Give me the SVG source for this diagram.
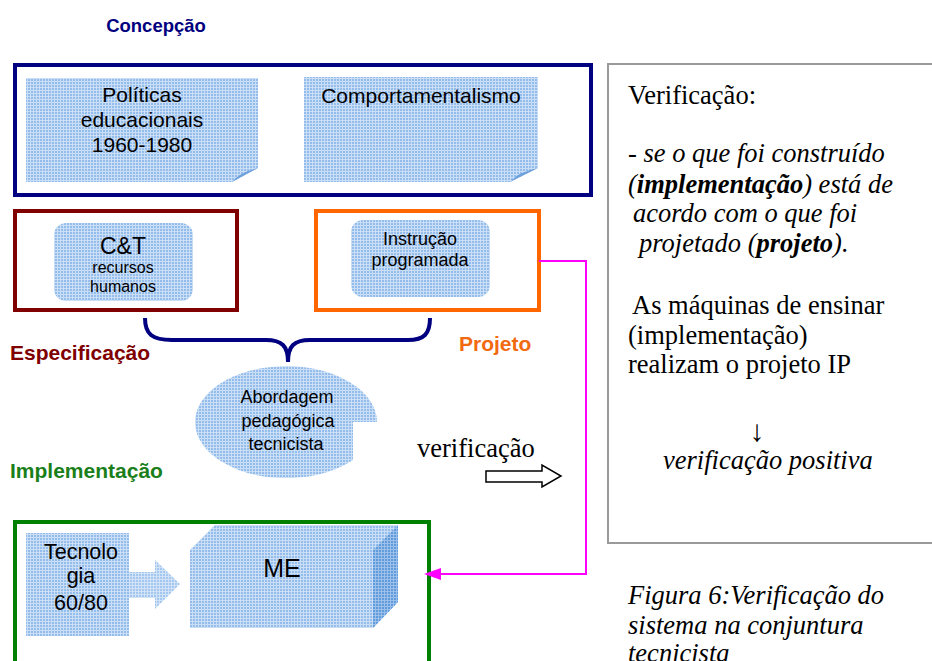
<svg xmlns="http://www.w3.org/2000/svg" width="932" height="661" viewBox="0 0 932 661">
<defs>
<pattern id="grid" width="3" height="3" patternUnits="userSpaceOnUse"><rect width="3" height="3" fill="#94bdec"/><path d="M0 0.5H3M0.5 0V3" stroke="#ffffff" stroke-width="1" opacity="0.5"/></pattern>
<pattern id="gridDark" width="3" height="3" patternUnits="userSpaceOnUse"><rect width="3" height="3" fill="#4f8fd6"/><path d="M0 0.5H3M0.5 0V3" stroke="#ffffff" stroke-width="1" opacity="0.35"/></pattern>
</defs>
<style>
.sans{font-family:"Liberation Sans",Arial,sans-serif;fill:#000}
.serif{font-family:"Liberation Serif","Times New Roman",serif;fill:#000;font-size:26.5px}
.lbl{font-family:"Liberation Sans",Arial,sans-serif;font-weight:bold;font-size:21px}
.frame{fill:#fff;stroke-width:4}
.fill{fill:url(#grid)}
</style>
<rect width="932" height="661" fill="#fff"/>

<g id="concepcao-label"><text class="lbl" x="156" y="32" text-anchor="middle" fill="#000080" style="font-size:18.5px">Concepção</text></g>

<g id="concepcao">
<rect class="frame" x="15" y="65" width="576" height="130" stroke="#000080"/>
</g>
<g id="politicas">
<path class="fill" d="M26 78H258V168L232 182H26Z"/>
<path d="M232 182Q240 172 258 168Z" fill="#6fa2dc"/>
<text class="sans" x="142" y="102" text-anchor="middle" font-size="21">Políticas</text>
<text class="sans" x="142" y="127" text-anchor="middle" font-size="21">educacionais</text>
<text class="sans" x="142" y="152" text-anchor="middle" font-size="21">1960-1980</text>
</g>
<g id="comportamentalismo">
<path class="fill" d="M304 77H538V168L510 182H304Z"/>
<path d="M510 182Q518 172 538 168Z" fill="#6fa2dc"/>
<text class="sans" x="421" y="103" text-anchor="middle" font-size="21">Comportamentalismo</text>
</g>

<g id="ct">
<rect class="frame" x="15" y="211" width="222" height="99" stroke="#800000"/>
<rect class="fill" x="54" y="223" width="139" height="78" rx="12"/>
<text class="sans" x="123" y="254" text-anchor="middle" font-size="23">C&amp;T</text>
<text class="sans" x="123" y="273" text-anchor="middle" font-size="16">recursos</text>
<text class="sans" x="123" y="292" text-anchor="middle" font-size="16">humanos</text>
</g>

<g id="instrucao">
<rect class="frame" x="316" y="211" width="223" height="99" stroke="#ff6600"/>
<rect class="fill" x="351" y="220" width="139" height="77" rx="12"/>
<text class="sans" x="420" y="245" text-anchor="middle" font-size="18">Instrução</text>
<text class="sans" x="420" y="266" text-anchor="middle" font-size="18">programada</text>
</g>

<g id="especificacao-label"><text class="lbl" x="10" y="360" fill="#800000">Especificação</text></g>
<g id="projeto-label"><text class="lbl" x="459" y="351" fill="#f26a10">Projeto</text></g>

<g id="abordagem">
<path class="fill" d="M377 422H353V460A91 56 0 1 1 377 422Z"/>
<text class="sans" x="287" y="403" text-anchor="middle" font-size="18">Abordagem</text>
<text class="sans" x="288" y="427" text-anchor="middle" font-size="18">pedagógica</text>
<text class="sans" x="286" y="450" text-anchor="middle" font-size="18">tecnicista</text>
</g>

<g id="implementacao-label"><text class="lbl" x="10" y="478" fill="#1a7f1a">Implementação</text></g>

<g id="implementacao">
<rect class="frame" x="15" y="522" width="414" height="160" stroke="#008000"/>
</g>
<g id="tecnologia">
<rect class="fill" x="26" y="533" width="103" height="103"/>
<text class="sans" x="81" y="559" text-anchor="middle" font-size="21.5">Tecnolo</text>
<text class="sans" x="81" y="583" text-anchor="middle" font-size="21.5">gia</text>
<text class="sans" x="81" y="610" text-anchor="middle" font-size="21.5">60/80</text>
</g>
<g id="seta-tecnologia">
<path class="fill" d="M129 572H155V560L180 584L155 609V598H129Z" opacity="0.85"/>
</g>
<g id="me">
<path class="fill" d="M190 550L215 525H398V602L373 628H190Z"/>
<path d="M373 550L398 525V602L373 628Z" fill="url(#gridDark)" opacity="0.75"/>
<text class="sans" x="282" y="577" text-anchor="middle" font-size="25">ME</text>
</g>

<g id="connectors">
<path d="M145 318C145 334 152 340 172 340H266C282 340 288 346 288 362C288 346 294 340 310 340H408C424 340 430 334 430 318" fill="none" stroke="#000080" stroke-width="4"/>
<path d="M539 261H586V574H432" fill="none" stroke="#ff00ff" stroke-width="2"/>
<path d="M424 574L441 568V580Z" fill="#ff00ff"/>
<path d="M486 471H542V465L561 476L542 487V482H486Z" fill="#fff" stroke="#000" stroke-width="1.5"/>
</g>
<g id="verificacao-label"><text class="serif" x="417" y="457">verificação</text></g>

<g id="painel">
<path d="M932 64H608V543H932" fill="#fff" stroke="#9a9a9a" stroke-width="2"/>
<text class="serif" x="628" y="104">Verificação:</text>
<text class="serif" x="628" y="162" font-style="italic">- se o que foi construído</text>
<text class="serif" x="628" y="193" font-style="italic">(<tspan font-weight="bold">implementação</tspan>) está de</text>
<text class="serif" x="633" y="222" font-style="italic">acordo com o que foi</text>
<text class="serif" x="639" y="252" font-style="italic">projetado (<tspan font-weight="bold">projeto</tspan>).</text>
<text class="serif" x="632" y="314">As máquinas de ensinar</text>
<text class="serif" x="628" y="344">(implementação)</text>
<text class="serif" x="628" y="373">realizam o projeto IP</text>
<text class="serif" x="757" y="441" text-anchor="middle" style="font-size:30px">↓</text>
<text class="serif" x="663" y="469" font-style="italic">verificação positiva</text>
</g>

<g id="legenda">
<text class="serif" x="628" y="604" font-style="italic">Figura 6:Verificação do</text>
<text class="serif" x="628" y="634" font-style="italic">sistema na conjuntura</text>
<text class="serif" x="628" y="662" font-style="italic">tecnicista</text>
</g>
</svg>
